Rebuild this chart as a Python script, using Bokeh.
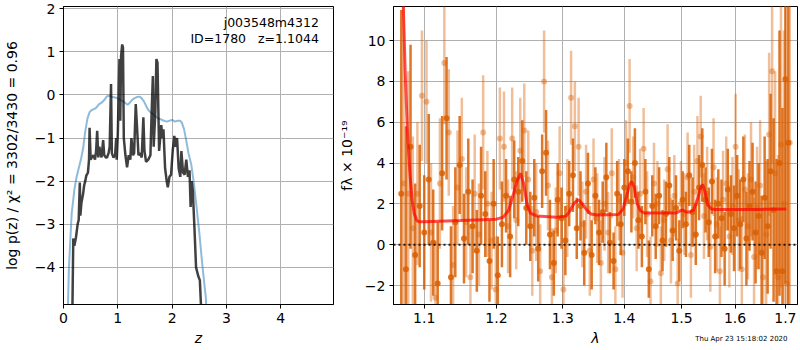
from bokeh.plotting import figure
from bokeh.layouts import row
from bokeh.models import Range1d, FixedTicker, CustomJSTickFormatter, Label, Span, Title
from bokeh.embed import file_html
from bokeh.resources import INLINE

# ---------------- left panel: redshift PDF ----------------
z_pz = [0.12, 0.165, 0.18, 0.20, 0.23, 0.26, 0.28, 0.30, 0.31, 0.33, 0.36, 0.38, 0.40, 0.42, 0.45, 0.47,
        0.48, 0.50, 0.52, 0.55, 0.58, 0.60, 0.62, 0.64, 0.66, 0.68, 0.70, 0.73, 0.75, 0.78, 0.80, 0.83,
        0.85, 0.875, 0.89, 0.92, 0.95, 0.97, 0.98, 1.00, 1.03, 1.045, 1.06, 1.08, 1.095, 1.11, 1.14, 1.17,
        1.20, 1.23, 1.25, 1.28, 1.30, 1.33, 1.36, 1.38, 1.41, 1.44, 1.47, 1.49, 1.52, 1.56, 1.60, 1.62,
        1.645, 1.66, 1.69, 1.71, 1.73, 1.76, 1.80, 1.82, 1.84, 1.87, 1.90, 1.92, 1.95, 1.98, 2.01, 2.04,
        2.06, 2.09, 2.12, 2.15, 2.17, 2.20, 2.23, 2.26, 2.29, 2.32, 2.34, 2.36, 2.38, 2.41, 2.44, 2.48,
        2.51, 2.53, 2.56]
logpz = [-6.0, -4.86, -3.33, -3.5, -3.3, -3.0, -2.9, -2.03, -2.8, -2.5, -2.3, -2.1, -2.0, -1.87, -1.8, -1.5,
         -0.76, -1.5, -1.45, -1.4, -1.5, -1.3, -0.83, -1.45, -1.2, -1.35, -1.45, -1.05, -1.4, -1.45, -1.45, -1.35,
         -1.2, 0.25, -1.35, -1.45, -1.4, -1.0, -1.5, -0.9, 0.83, -0.6, 0.9, 1.17, 1.1, -1.0, -1.4, -1.68,
         -1.4, -1.5, -1.0, -1.4, -1.35, -0.21, -0.9, -1.4, -1.35, -1.45, -0.52, -1.3, -1.55, -1.5, -1.4, -0.5,
         0.44, -1.2, -0.4, 0.83, 0.75, -1.3, -0.7, -1.0, -0.8, -1.7, -2.0, -2.14, -1.9, -1.85, -1.3, -0.95,
         -1.2, -1.0, -1.7, -1.9, -1.3, -1.8, -1.85, -1.5, -1.9, -1.75, -2.6, -2.0, -2.22, -3.07, -4.0, -4.2,
         -4.3, -4.86, -6.0]

z_chi = [0.06, 0.10, 0.15, 0.20, 0.24, 0.28, 0.32, 0.36, 0.40, 0.44, 0.48, 0.52, 0.56, 0.60, 0.65, 0.70,
         0.75, 0.80, 0.85, 0.90, 0.95, 1.00, 1.05, 1.10, 1.15, 1.18, 1.22, 1.26, 1.30, 1.35, 1.40, 1.44,
         1.48, 1.52, 1.56, 1.60, 1.65, 1.70, 1.75, 1.80, 1.85, 1.90, 1.95, 2.00, 2.05, 2.10, 2.15, 2.18,
         2.22, 2.26, 2.30, 2.35, 2.40, 2.45, 2.50, 2.56, 2.62, 2.66]
chi_curve = [-6.0, -4.0, -2.76, -2.2, -1.91, -1.7, -1.5, -1.25, -0.85, -0.55, -0.4, -0.35, -0.33, -0.3, -0.22, -0.18,
             -0.12, -0.03, -0.02, -0.05, -0.06, -0.08, -0.12, -0.15, -0.2, -0.23, -0.18, -0.12, -0.08, -0.05, -0.04, -0.08,
             -0.15, -0.25, -0.35, -0.4, -0.45, -0.5, -0.55, -0.57, -0.6, -0.62, -0.6, -0.58, -0.62, -0.6, -0.6, -0.65,
             -0.8, -1.06, -1.35, -1.6, -2.05, -2.6, -3.2, -4.0, -4.7, -6.0]

z_ticks = [0, 1, 2, 3, 4]
lnp_ticks = [-4, -3, -2, -1, 0, 1, 2]

# ---------------- right panel: spectrum ----------------
wave_a = [1.070, 1.076, 1.082, 1.088, 1.094, 1.100, 1.106, 1.112, 1.118, 1.124,
          1.130, 1.136, 1.142, 1.148, 1.154, 1.160, 1.166, 1.172, 1.178, 1.184,
          1.190, 1.196, 1.202, 1.208, 1.214, 1.220, 1.226, 1.232, 1.238, 1.244,
          1.250, 1.256, 1.262, 1.268, 1.274, 1.280, 1.286, 1.292, 1.298, 1.304,
          1.310, 1.316, 1.322, 1.328, 1.334, 1.340, 1.346, 1.352, 1.358, 1.364,
          1.370, 1.376, 1.382, 1.388, 1.394, 1.400, 1.406, 1.412, 1.418, 1.424,
          1.430, 1.436, 1.442, 1.448, 1.454, 1.460, 1.466, 1.472, 1.478, 1.484,
          1.490, 1.496, 1.502, 1.508, 1.514, 1.520, 1.526, 1.532, 1.538, 1.544,
          1.550, 1.556, 1.562, 1.568, 1.574, 1.580, 1.586, 1.592, 1.598, 1.604,
          1.610, 1.616, 1.622, 1.628, 1.634, 1.640, 1.646, 1.652, 1.658, 1.664,
          1.670, 1.676, 1.682, 1.688, 1.694, 1.700, 1.706]
flux_a = [2.5, -1.2, 4.8, -0.5, 1.9, 0.6, 3.2, 0.1, -1.9, 3.5,
          6.2, -1.6, 1.1, 3.9, 0.3, 2.6, 0.9, -0.3, 2.4, 1.5,
          -0.8, 2.0, -1.5, 1.0, 2.4, 0.4, 3.2, 2.6, 4.1, 1.8,
          0.9, 2.3, -0.2, 3.6, 4.5, 0.5, -0.9, 2.2, 1.3, 0.2,
          2.5, 3.4, 0.8, 1.9, -0.4, 3.0, -0.5, 2.4, 0.6, 1.6,
          3.3, 0.1, -0.8, 2.5, 1.0, 2.8, 3.6, 2.1, 4.0, 1.2,
          0.4, 2.6, -1.2, 1.9, 0.9, 2.4, 0.2, 1.5, 2.9, 0.7,
          1.8, -0.3, 2.2, 1.0, 3.4, 1.6, 0.5, 2.8, 3.9, 2.2,
          1.1, 3.1, 0.4, 2.0, 1.3, -0.2, 2.7, 1.5, 0.8, 2.4,
          1.0, 3.2, 0.3, 1.9, 2.6, 0.6, 1.4, -0.4, 2.3, 0.9,
          3.6, 1.7, -1.3, 4.0, -1.3, 8.1, 5.0]
err_a = [9.0, 7.0, 5.0, 3.5, 3.0, 2.8, 3.2, 2.6, 3.0, 2.8,
         3.0, 2.5, 2.7, 2.4, 2.2, 2.6, 2.3, 2.0, 2.4, 2.1,
         2.0, 2.2, 1.9, 2.1, 1.8, 2.0, 1.9, 1.7, 2.0, 1.8,
         1.7, 1.9, 1.6, 1.8, 2.1, 1.7, 1.6, 1.8, 1.5, 1.7,
         1.6, 1.8, 1.5, 1.7, 1.6, 1.5, 1.7, 1.4, 1.6, 1.5,
         1.7, 1.5, 1.4, 1.6, 1.5, 1.4, 1.6, 1.5, 1.7, 1.4,
         1.5, 1.6, 1.4, 1.5, 1.6, 1.4, 1.5, 1.6, 1.4, 1.5,
         1.6, 1.5, 1.4, 1.6, 1.5, 1.7, 1.5, 1.6, 1.8, 1.6,
         1.7, 1.6, 1.8, 1.7, 1.9, 1.8, 2.0, 1.9, 2.1, 2.0,
         2.2, 2.1, 2.3, 2.2, 2.4, 2.5, 2.6, 2.8, 3.0, 3.3,
         3.8, 4.5, 5.5, 6.5, 8.0, 10.0, 12.0]

wave_b = [1.073, 1.079, 1.085, 1.091, 1.097, 1.103, 1.109, 1.115, 1.121, 1.127,
          1.133, 1.139, 1.145, 1.151, 1.157, 1.163, 1.169, 1.175, 1.181, 1.187,
          1.193, 1.199, 1.205, 1.211, 1.217, 1.223, 1.229, 1.235, 1.241, 1.247,
          1.253, 1.259, 1.265, 1.271, 1.277, 1.283, 1.289, 1.295, 1.301, 1.307,
          1.313, 1.319, 1.325, 1.331, 1.337, 1.343, 1.349, 1.355, 1.361, 1.367,
          1.373, 1.379, 1.385, 1.391, 1.397, 1.403, 1.409, 1.415, 1.421, 1.427,
          1.433, 1.439, 1.445, 1.451, 1.457, 1.463, 1.469, 1.475, 1.481, 1.487,
          1.493, 1.499, 1.505, 1.511, 1.517, 1.523, 1.529, 1.535, 1.541, 1.547,
          1.553, 1.559, 1.565, 1.571, 1.577, 1.583, 1.589, 1.595, 1.601, 1.607,
          1.613, 1.619, 1.625, 1.631, 1.637, 1.643, 1.649, 1.655, 1.661, 1.667,
          1.673, 1.679, 1.685, 1.691, 1.697, 1.703, 1.709]
flux_b = [3.0, 2.5, 0.8, 2.5, 7.3, 7.0, 0.6, -2.6, 3.0, 8.9,
          5.5, -1.0, 2.8, 4.2, 1.1, -1.6, 2.5, 0.5, 5.5, 2.0,
          0.2, -2.2, 5.2, 4.8, 0.9, 5.2, 1.2, 4.6, 5.6, 3.2,
          -0.3, 1.6, -1.3, 8.0, 2.9, -1.6, 0.7, 3.5, -2.2, 1.8,
          7.2, 5.8, 4.8, 1.0, 2.6, -0.3, 3.2, 1.3, -0.9, 2.0,
          0.6, 3.5, -1.2, 2.2, -0.4, 4.0, 6.8, 3.3, 0.8, 2.5,
          4.7, 1.5, -1.8, 3.0, 2.0, -1.4, 1.2, 3.7, 0.2, 2.4,
          -1.9, 2.0, 1.5, 3.3, -0.5, 2.6, 4.1, 5.3, 1.4, 2.5,
          -0.1, 3.8, 1.0, -1.3, 2.2, 3.0, 0.4, 1.9, 4.8, 1.2,
          -1.2, 2.7, 0.9, 3.2, -0.6, 1.8, 2.9, -1.6, 0.5, 5.4,
          8.5, 3.5, -1.6, 4.9, 2.0, -1.9, 5.0]
err_b = [9.0, 6.0, 4.5, 3.5, 3.2, 3.0, 3.4, 2.8, 3.2, 3.0,
         3.1, 2.9, 2.8, 3.0, 2.7, 2.6, 2.9, 2.5, 2.8, 2.6,
         2.4, 2.6, 2.5, 2.7, 2.3, 2.5, 2.4, 2.6, 2.3, 2.4,
         2.2, 2.4, 2.3, 2.5, 2.2, 2.4, 2.1, 2.3, 2.2, 2.4,
         2.3, 2.2, 2.4, 2.1, 2.3, 2.2, 2.0, 2.2, 2.1, 2.3,
         2.0, 2.2, 2.1, 2.0, 2.2, 2.1, 2.3, 2.0, 2.1, 2.2,
         2.0, 2.1, 2.2, 2.0, 2.1, 2.3, 2.0, 2.2, 2.1, 2.0,
         2.2, 2.1, 2.0, 2.2, 2.1, 2.3, 2.2, 2.0, 2.1, 2.3,
         2.2, 2.4, 2.3, 2.2, 2.4, 2.3, 2.5, 2.4, 2.6, 2.5,
         2.6, 2.7, 2.6, 2.8, 2.9, 3.0, 3.2, 3.4, 3.6, 4.0,
         4.5, 5.0, 6.0, 7.0, 8.5, 10.0, 12.0]

model_wave = [1.068, 1.072, 1.075, 1.078, 1.081, 1.084, 1.087, 1.090, 1.093, 1.100, 1.150, 1.200, 1.210, 1.218,
              1.225, 1.230, 1.2355, 1.240, 1.245, 1.250, 1.260, 1.290, 1.305, 1.312, 1.318, 1.3248, 1.331, 1.338,
              1.345, 1.355, 1.390, 1.398, 1.404, 1.409, 1.4128, 1.417, 1.422, 1.428, 1.435, 1.490, 1.497, 1.502,
              1.508, 1.515, 1.522, 1.530, 1.535, 1.5388, 1.543, 1.548, 1.555, 1.562, 1.600, 1.650, 1.702]
model_flux = [20, 12.5, 8.5, 5.5, 3.6, 2.2, 1.5, 1.2, 1.12, 1.12, 1.18, 1.25, 1.35, 1.7,
              2.5, 3.1, 3.5, 3.0, 2.0, 1.55, 1.4, 1.35, 1.4, 1.7, 2.05, 2.2, 2.0, 1.7,
              1.5, 1.45, 1.48, 1.75, 2.4, 2.95, 3.1, 2.8, 2.0, 1.65, 1.55, 1.55, 1.65, 1.7,
              1.6, 1.6, 1.7, 2.3, 2.8, 2.95, 2.6, 1.95, 1.75, 1.72, 1.72, 1.73, 1.75]

wave_ticks = [1.1, 1.2, 1.3, 1.4, 1.5, 1.6, 1.7]
flux_ticks = [-2, 0, 2, 4, 6, 8, 10]

FONT = "DejaVu Sans"
minus_fmt = "return (tick < 0 ? '\u2212' : '') + Math.abs(tick).toString();"
H = 349


def style(p):
    p.outline_line_color = "black"
    p.outline_line_width = 1
    p.background_fill_color = "white"
    p.border_fill_color = "white"
    for ax in (p.xaxis[0], p.yaxis[0]):
        ax.major_tick_out = 4
        ax.major_tick_in = 0
        ax.minor_tick_out = 0
        ax.minor_tick_in = 0
        ax.major_tick_line_color = "black"
        ax.axis_line_color = "black"
        ax.major_label_text_font = FONT
        ax.major_label_text_font_size = "14px"
        ax.major_label_text_color = "black"
        ax.major_label_standoff = 4
        ax.axis_label_text_font = FONT
        ax.axis_label_text_font_size = "14px"
        ax.axis_label_text_color = "black"
    p.grid.grid_line_color = "#b0b0b0"
    p.grid.grid_line_width = 1


# left figure
p1 = figure(width=335, height=H, output_backend="svg", toolbar_location=None,
            x_range=Range1d(0, 4.97), y_range=Range1d(-4.86, 2.05),
            min_border_left=62, min_border_right=2, min_border_top=6, min_border_bottom=45)
style(p1)
p1.xaxis.ticker = FixedTicker(ticks=z_ticks)
p1.yaxis.ticker = FixedTicker(ticks=lnp_ticks)
p1.xaxis.formatter = CustomJSTickFormatter(code=minus_fmt)
p1.yaxis.formatter = CustomJSTickFormatter(code=minus_fmt)
p1.xaxis.axis_label = "z"
p1.xaxis.axis_label_text_font_style = "italic"
p1.xaxis.axis_label_standoff = 4
p1.yaxis.axis_label = "log p(z) / χ² = 3302/3430 = 0.96"
p1.yaxis.axis_label_text_font_style = "normal"
p1.yaxis.axis_label_standoff = 12

p1.line(z_chi, chi_curve, line_color="#1f77b4", line_alpha=0.5, line_width=2)
p1.line(z_pz, logpz, line_color="black", line_alpha=0.75, line_width=2.5)

p1.add_layout(Label(x=4.70, y=1.67, text="j003548m4312", text_align="right", text_baseline="middle",
                    text_font=FONT, text_font_size="12.5px", text_color="black"))
p1.add_layout(Label(x=3.36, y=1.30, text="ID=1780", text_align="right", text_baseline="middle",
                    text_font=FONT, text_font_size="12.5px", text_color="black"))
p1.add_layout(Label(x=4.70, y=1.30, text="z=1.1044", text_align="right", text_baseline="middle",
                    text_font=FONT, text_font_size="12.5px", text_color="black"))

# right figure
p2 = figure(width=464, height=H, output_backend="svg", toolbar_location=None,
            x_axis_type="log", x_range=Range1d(1.06, 1.725), y_range=Range1d(-2.93, 11.67),
            min_border_left=56, min_border_right=2, min_border_top=6, min_border_bottom=45)
style(p2)
p2.xaxis.ticker = FixedTicker(ticks=wave_ticks, minor_ticks=[])
p2.yaxis.ticker = FixedTicker(ticks=flux_ticks)
p2.xaxis.formatter = CustomJSTickFormatter(code="return tick.toFixed(1);")
p2.yaxis.formatter = CustomJSTickFormatter(code=minus_fmt)
p2.xaxis.axis_label = "λ"
p2.xaxis.axis_label_text_font_style = "italic"
p2.xaxis.axis_label_standoff = 4
p2.yaxis.axis_label = "fλ × 10⁻¹⁹"
p2.yaxis.axis_label_text_font_style = "normal"
p2.yaxis.axis_label_standoff = 7

ORANGE = "#d95f02"
lo_b = [f - e for f, e in zip(flux_b, err_b)]
hi_b = [f + e for f, e in zip(flux_b, err_b)]
lo_a = [f - e for f, e in zip(flux_a, err_a)]
hi_a = [f + e for f, e in zip(flux_a, err_a)]

p2.segment(wave_b, lo_b, wave_b, hi_b, line_color=ORANGE, line_alpha=0.4, line_width=2.5)
p2.scatter(wave_b, flux_b, size=6, fill_color=ORANGE, fill_alpha=0.4, line_color=None)
p2.segment(wave_a, lo_a, wave_a, hi_a, line_color=ORANGE, line_alpha=0.85, line_width=2.5)
p2.scatter(wave_a, flux_a, size=6, fill_color=ORANGE, fill_alpha=0.85, line_color=None)

p2.line(model_wave, model_flux, line_color="red", line_alpha=0.7, line_width=3)
p2.add_layout(Span(location=0, dimension="width", line_color="black", line_alpha=0.85,
                   line_width=2, line_dash="2 3"))

stamp = Title(text="Thu Apr 23 15:18:02 2020", align="right", vertical_align="top",
              text_font=FONT, text_font_size="7px", text_font_style="normal",
              text_color="black", standoff=-28, offset=10)
p2.add_layout(stamp, "below")

layout = row(p1, p2)
open("out.html", "w").write(file_html(layout, INLINE))
